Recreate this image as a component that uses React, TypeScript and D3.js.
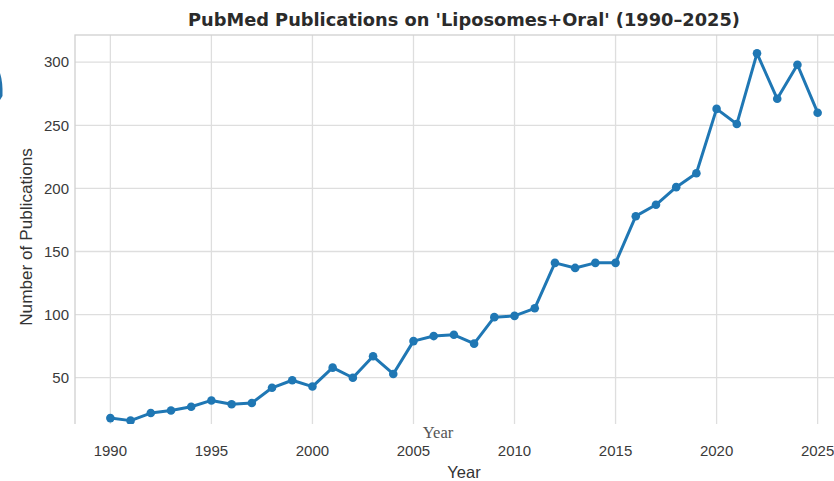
import React from "react";
import * as d3 from "d3";

const years: number[] = d3.range(1990, 2026);
const counts: number[] = [
  18, 16, 22, 24, 27, 32, 29, 30, 42, 48,
  43, 58, 50, 67, 53, 79, 83, 84, 77, 98,
  99, 105, 141, 137, 141, 141, 178, 187, 201, 212,
  263, 251, 307, 271, 298, 260,
];
const xTicks: number[] = [1990, 1995, 2000, 2005, 2010, 2015, 2020, 2025];
const yTicks: number[] = [50, 100, 150, 200, 250, 300];

const width = 834;
const height = 481;
const left = 75;
const right = 853; // plot runs past the cropped right edge
const top = 35;
const bottom = 439;

const App: React.FC = () => {
  const data = years.map((y, i) => ({ year: y, value: counts[i] }));

  // matplotlib-style 5% margins
  const xPad = (d3.max(years)! - d3.min(years)!) * 0.05;
  const x = d3
    .scaleLinear()
    .domain([d3.min(years)! - xPad, d3.max(years)! + xPad])
    .range([left, right]);
  const yPad = (d3.max(counts)! - d3.min(counts)!) * 0.05;
  const y = d3
    .scaleLinear()
    .domain([d3.min(counts)! - yPad, d3.max(counts)! + yPad])
    .range([bottom, top]);

  const line = d3
    .line<{ year: number; value: number }>()
    .x((d) => x(d.year))
    .y((d) => y(d.value));

  const grid = "#dedede";
  const tickColor = "#3a3a3a";
  const font = "'Liberation Sans', Arial, sans-serif";

  return (
    <svg
      width={width}
      height={height}
      style={{ position: "absolute", left: 0, top: 0, background: "#fff" }}
      fontFamily={font}
    >
      <defs>
        <clipPath id="plot">
          <rect x={left} y={top} width={right - left} height={bottom - top} />
        </clipPath>
      </defs>

      {/* grid */}
      {yTicks.map((t) => (
        <line key={"gy" + t} x1={left} x2={right} y1={y(t)} y2={y(t)} stroke={grid} strokeWidth={1.3} />
      ))}
      {xTicks.map((t) => (
        <line key={"gx" + t} x1={x(t)} x2={x(t)} y1={top} y2={bottom} stroke={grid} strokeWidth={1.3} />
      ))}
      <rect x={left} y={top} width={right - left} height={bottom - top} fill="none" stroke="#d0d0d0" strokeWidth={1.3} />

      {/* series */}
      <g clipPath="url(#plot)">
        <path d={line(data) ?? ""} fill="none" stroke="#1f77b4" strokeWidth={3} strokeLinejoin="round" />
        {data.map((d) => (
          <circle key={d.year} cx={x(d.year)} cy={y(d.value)} r={4.3} fill="#1f77b4" />
        ))}
      </g>

      {/* white band over the bottom of the plot */}
      <rect x={0} y={424} width={width} height={18} fill="#fff" />
      <text x={438} y={438} textAnchor="middle" fontFamily="'Liberation Serif', 'Times New Roman', serif" fontSize={16.5} fill="#555">
        Year
      </text>

      {/* y ticks */}
      {yTicks.map((t) => (
        <text key={"ty" + t} x={69} y={y(t)} dy="0.35em" textAnchor="end" fontSize={15} fill={tickColor}>
          {t}
        </text>
      ))}
      {/* x ticks */}
      {xTicks.map((t) => (
        <text key={"tx" + t} x={x(t)} y={456} textAnchor="middle" fontSize={15} fill={tickColor}>
          {t}
        </text>
      ))}

      {/* labels */}
      <text x={(left + right) / 2} y={478} textAnchor="middle" fontSize={16.5} fill="#333">
        Year
      </text>
      <text
        transform={`translate(32, ${(top + bottom) / 2}) rotate(-90)`}
        textAnchor="middle"
        fontSize={17.2}
        fill="#333"
      >
        Number of Publications
      </text>
      <text
        x={(left + right) / 2}
        y={25.5}
        textAnchor="middle"
        fontFamily="'DejaVu Sans', sans-serif"
        fontSize={17.8}
        fontWeight="bold"
        fill="#2b2b2b"
      >
        PubMed Publications on 'Liposomes+Oral' (1990–2025)
      </text>

      {/* sliver of blue artwork at the left edge */}
      <path d="M0,73 Q3,82 2.5,96 L0,100 Z" fill="#2373ad" />
    </svg>
  );
};

export default App;
